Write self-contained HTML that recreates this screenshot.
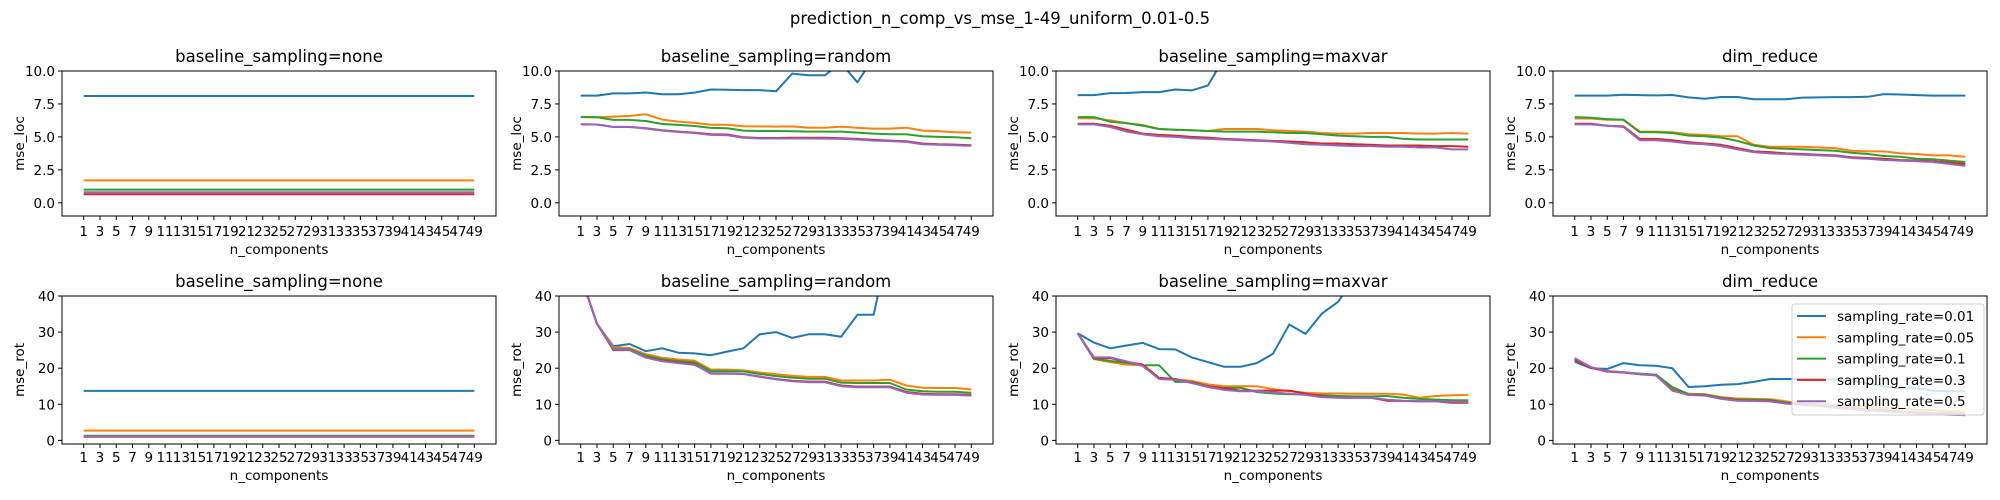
<!DOCTYPE html>
<html><head><meta charset="utf-8"><style>
html,body{margin:0;padding:0;background:#fff;}
svg{display:block;font-family:"DejaVu Sans","Liberation Sans",sans-serif;}
</style></head><body>
<svg id="fig" width="2000" height="500" viewBox="0 0 2000 500" xmlns="http://www.w3.org/2000/svg">
<rect width="2000" height="500" fill="#fff"/>
<text x="1000" y="24" text-anchor="middle" font-size="16.5">prediction_n_comp_vs_mse_1-49_uniform_0.01-0.5</text>
</svg>
<script>
const categories = [1,3,5,7,9,11,13,15,17,19,21,23,25,27,29,31,33,35,37,39,41,43,45,47,49];
const seriesNames = ["sampling_rate=0.01","sampling_rate=0.05","sampling_rate=0.1","sampling_rate=0.3","sampling_rate=0.5"];
const locYTicks = ["0.0","2.5","5.0","7.5","10.0"];
const locYTickValues = [0,2.5,5,7.5,10];
const rotYTicks = ["0","10","20","30","40"];
const rotYTickValues = [0,10,20,30,40];
const panelTitles = ["baseline_sampling=none","baseline_sampling=random","baseline_sampling=maxvar","dim_reduce"];

const locNoneLevels = [8.1,1.7,1.0,0.65,0.8];
const rotNoneLevels = [13.7,2.7,1.3,1.0,1.1];

const locRandom = [
 [8.13,8.13,8.3,8.3,8.37,8.23,8.23,8.36,8.6,8.58,8.55,8.55,8.46,9.8,9.67,9.67,10.6,9.14,11,12,12,13,13,14,14],
 [6.49,6.49,6.54,6.59,6.72,6.31,6.16,6.06,5.93,5.92,5.81,5.8,5.78,5.8,5.7,5.7,5.78,5.68,5.63,5.63,5.7,5.48,5.43,5.35,5.33],
 [6.52,6.49,6.29,6.29,6.21,5.98,5.91,5.83,5.68,5.66,5.48,5.45,5.45,5.43,5.4,5.4,5.4,5.33,5.25,5.2,5.2,5.05,5.0,4.97,4.9],
 [5.96,5.94,5.76,5.76,5.66,5.5,5.4,5.33,5.2,5.18,4.97,4.92,4.92,4.94,4.94,4.94,4.9,4.85,4.77,4.72,4.67,4.5,4.44,4.42,4.37],
 [5.95,5.94,5.75,5.75,5.64,5.48,5.37,5.3,5.15,5.13,4.93,4.88,4.88,4.88,4.88,4.87,4.85,4.8,4.72,4.68,4.62,4.45,4.4,4.37,4.32]];
const locMaxvar = [
 [8.17,8.17,8.32,8.33,8.4,8.4,8.6,8.53,8.9,11,12,12,13,13,14,14,15,15,16,16,16,17,17,17,17],
 [6.42,6.42,6.25,6.05,5.9,5.6,5.55,5.5,5.45,5.6,5.6,5.6,5.5,5.45,5.4,5.3,5.25,5.25,5.3,5.3,5.3,5.25,5.25,5.3,5.25],
 [6.5,6.5,6.15,6.05,5.85,5.6,5.55,5.5,5.45,5.4,5.4,5.4,5.35,5.3,5.3,5.2,5.1,5.05,5.0,5.0,4.85,4.8,4.8,4.8,4.8],
 [6.0,6.0,5.85,5.55,5.25,5.15,5.1,5.0,4.95,4.85,4.8,4.75,4.7,4.65,4.6,4.5,4.5,4.45,4.4,4.35,4.35,4.35,4.3,4.3,4.25],
 [5.95,5.95,5.75,5.4,5.2,5.05,5.0,4.9,4.85,4.8,4.75,4.7,4.65,4.55,4.45,4.4,4.35,4.3,4.3,4.25,4.25,4.2,4.2,4.05,4.05]];
const locDim = [
 [8.13,8.13,8.13,8.2,8.17,8.15,8.18,8.0,7.9,8.03,8.03,7.85,7.85,7.85,7.98,8.0,8.02,8.02,8.04,8.25,8.22,8.17,8.13,8.13,8.13],
 [6.4,6.4,6.3,6.3,5.4,5.4,5.35,5.2,5.15,5.05,5.05,4.4,4.25,4.25,4.25,4.2,4.15,3.95,3.9,3.9,3.75,3.7,3.6,3.6,3.5],
 [6.5,6.45,6.35,6.3,5.35,5.35,5.3,5.1,5.05,4.95,4.7,4.35,4.15,4.1,4.05,4.0,3.95,3.8,3.7,3.55,3.5,3.35,3.3,3.2,3.1],
 [6.0,6.0,5.85,5.8,4.85,4.85,4.75,4.6,4.5,4.4,4.15,3.9,3.85,3.75,3.7,3.65,3.6,3.45,3.4,3.35,3.25,3.2,3.15,3.05,2.95],
 [5.95,5.95,5.85,5.75,4.75,4.75,4.65,4.5,4.45,4.3,4.05,3.85,3.75,3.7,3.65,3.6,3.55,3.4,3.35,3.25,3.2,3.15,3.1,2.95,2.8]];
const rotRandom = [
 [45.5,32.3,26.1,26.7,24.7,25.5,24.3,24.1,23.6,24.6,25.5,29.4,30.0,28.4,29.4,29.4,28.7,34.8,34.8,55,60,60,62,65,65],
 [45.5,32.3,25.8,25.6,23.9,22.9,22.4,22.1,19.6,19.6,19.4,18.8,18.3,17.9,17.6,17.6,16.6,16.6,16.6,16.8,15.2,14.6,14.5,14.5,14.1],
 [45.5,32.3,25.4,25.3,23.5,22.5,22.0,21.6,19.2,19.2,19.1,18.4,17.8,17.4,17.1,17.1,16.0,15.9,15.9,15.9,14.1,13.6,13.5,13.5,13.2],
 [45.5,32.3,25.0,25.0,23.0,22.1,21.6,21.1,18.5,18.5,18.4,17.7,17.0,16.5,16.3,16.3,15.2,14.9,14.9,14.9,13.4,12.9,12.8,12.8,12.6],
 [45.5,32.3,25.2,25.1,22.9,21.9,21.4,20.9,18.6,18.6,18.4,17.6,16.9,16.4,16.1,16.1,15.0,14.7,14.7,14.7,13.2,12.7,12.6,12.6,12.4]];
const rotMaxvar = [
 [29.7,27.1,25.5,26.3,27.0,25.3,25.2,23.0,21.7,20.4,20.4,21.4,24.0,32.1,29.5,35.1,38.4,45,50,55,58,60,62,64,65],
 [29.7,22.5,21.7,21.0,20.8,17.2,16.8,16.5,15.5,15.0,15.0,15.0,14.2,13.6,13.2,13.0,13.0,12.9,12.9,12.9,12.7,11.8,12.3,12.5,12.6],
 [29.7,22.6,22.0,21.5,20.8,20.8,16.2,16.2,15.0,14.5,14.6,13.4,13.0,12.8,12.8,12.5,12.3,12.2,12.2,12.3,11.8,11.5,11.3,11.1,11.1],
 [29.7,22.7,22.8,21.8,21.0,17.3,17.0,16.0,15.0,14.4,13.8,13.8,13.8,13.8,13.0,12.2,11.8,11.8,11.8,11.0,10.9,10.8,10.8,10.4,10.4],
 [29.7,23.0,23.0,21.9,20.6,17.0,16.8,15.9,14.8,14.0,13.6,13.6,13.3,12.9,12.6,12.0,11.8,11.8,11.8,11.3,11.0,10.9,10.8,10.7,10.7]];
const rotDim = [
 [21.8,20.0,19.8,21.4,20.8,20.7,20.0,14.8,15.0,15.4,15.6,16.2,17.0,17.0,17.0,17.0,16.8,16.6,15.8,15.0,14.4,14.4,13.8,13.6,13.6],
 [22.5,20.2,19.0,18.8,18.4,18.2,14.5,12.9,12.8,12.0,11.6,11.5,11.4,10.8,10.2,10.0,9.8,9.5,9.3,9.0,8.8,8.5,8.3,8.1,8.0],
 [22.4,20.2,19.2,18.9,18.5,18.2,14.8,12.8,12.7,11.8,11.3,11.3,11.2,10.5,10.0,9.8,9.4,9.0,8.6,8.4,8.0,7.8,7.6,7.5,7.4],
 [22.3,20.1,19.1,18.8,18.3,18.0,14.0,12.6,12.5,11.6,11.1,11.0,10.9,10.3,9.9,9.7,9.2,8.8,8.4,8.2,7.9,7.6,7.4,7.2,7.0],
 [22.8,20.3,19.2,18.9,18.4,18.0,13.8,12.6,12.4,11.5,11.0,10.9,10.8,10.2,9.8,9.6,9.0,8.6,8.3,8.0,7.8,7.5,7.3,7.1,7.0]];

const colors = ["#1f77b4","#ff7f0e","#2ca02c","#d62728","#9467bd"];
const NS = "http://www.w3.org/2000/svg";
const svg = document.getElementById("fig");
function mk(tag, attrs, parent){
  const e = document.createElementNS(NS, tag);
  for (const k in attrs) e.setAttribute(k, attrs[k]);
  (parent||svg).appendChild(e);
  return e;
}
const colLeft = [62,559,1056,1553];
const W = 434;
const rows = [
  {top:71, h:145, ymin:-1, ymax:10, ticks:locYTicks, tv:locYTickValues, label:"mse_loc", tickY:236, xlabY:254, titleY:62,
   data:[locNoneLevels.map(v=>categories.map(()=>v)), locRandom, locMaxvar, locDim], key:"loc"},
  {top:296, h:148, ymin:-1, ymax:40, ticks:rotYTicks, tv:rotYTickValues, label:"mse_rot", tickY:462, xlabY:480, titleY:287,
   data:[rotNoneLevels.map(v=>categories.map(()=>v)), rotRandom, rotMaxvar, rotDim], key:"rot"}
];
rows.forEach((r, ri) => {
  for (let c = 0; c < 4; c++) {
    const L = colLeft[c];
    const xs = i => L + W*(0.05 + 0.9*i/(categories.length-1)) ;
    const ys = v => r.top + r.h*(r.ymax - v)/(r.ymax - r.ymin);
    const g = mk("g", {});
    
    
    const cid = "clip"+ri+"_"+c;
    const cp = mk("clipPath", {id:cid}, g);
    mk("rect", {x:L, y:r.top, width:W, height:r.h}, cp);
    const t = mk("text", {x:L+W/2, y:r.titleY, "text-anchor":"middle", "font-size":"16.5"}, g);
    t.textContent = panelTitles[c];
    
    
    r.tv.forEach((v, k) => {
      const y = ys(v);
      mk("line", {x1:L-4, x2:L, y1:y, y2:y, stroke:"#000", "stroke-width":"1"}, g);
      const tt = mk("text", {x:L-7, y:y+5, "text-anchor":"end", "font-size":"13.5"}, g);
      tt.textContent = r.ticks[k];
      
      
    });
    const yl = mk("text", {transform:"translate("+(L-38)+","+(r.top+r.h/2)+") rotate(-90)", "text-anchor":"middle", "font-size":"13.5"}, g);
    yl.textContent = r.label;
    
    
    categories.forEach((cv, i) => {
      const x = xs(i);
      mk("line", {x1:x, x2:x, y1:r.top+r.h, y2:r.top+r.h+4, stroke:"#000", "stroke-width":"1"}, g);
      const tt = mk("text", {x:x, y:r.tickY, "text-anchor":"middle", "font-size":"13.5"}, g);
      tt.textContent = cv;
      
      
    });
    const xl = mk("text", {x:L+W/2, y:r.xlabY, "text-anchor":"middle", "font-size":"13.5"}, g);
    xl.textContent = "n_components";
    
    
    const lg = mk("g", {"clip-path":"url(#"+cid+")"}, g);
    r.data[c].forEach((ser, s) => {
      const pts = ser.map((v, i) => xs(i).toFixed(1)+","+ys(v).toFixed(1)).join(" ");
      const pl = mk("polyline", {points:pts, fill:"none", stroke:colors[s], "stroke-width":"2", "stroke-linejoin":"round"}, lg);
      
      
    });
    mk("rect", {x:L, y:r.top, width:W, height:r.h, fill:"none", stroke:"#000", "stroke-width":"1"}, g);
  }
});
const leg = mk("g", {});


mk("rect", {x:1792, y:304, width:192, height:111, rx:3, fill:"#fff", "fill-opacity":"0.8", stroke:"#ccc", "stroke-width":"1"}, leg);
seriesNames.forEach((n, s) => {
  const y = 316 + s*21.3;
  const ln = mk("line", {x1:1797, x2:1826, y1:y, y2:y, stroke:colors[s], "stroke-width":"2"}, leg);
  
  
  const t = mk("text", {x:1837, y:y+5, "font-size":"13.5"}, leg);
  t.textContent = n;
  
  
});
</script>
</body></html>
